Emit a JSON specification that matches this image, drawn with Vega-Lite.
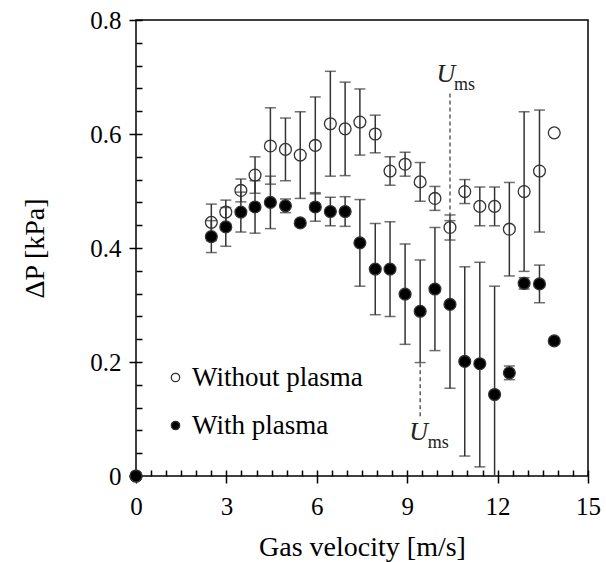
{
  "$schema": "https://vega.github.io/schema/vega-lite/v6.json",
  "width": 452,
  "height": 456,
  "autosize": {"type": "none"},
  "padding": {"left": 136, "top": 20, "right": 18, "bottom": 86},
  "background": "white",
  "config": {
    "view": {"stroke": "black", "strokeWidth": 1.5},
    "font": "Liberation Serif"
  },
  "datasets": {
    "pts": [
      {"v": 0, "p": 0, "s": "Without plasma"},
      {"v": 2.5, "p": 0.445, "lo": 0.413, "hi": 0.477, "s": "Without plasma"},
      {"v": 2.98, "p": 0.463, "lo": 0.442, "hi": 0.484, "s": "Without plasma"},
      {"v": 3.48, "p": 0.501, "lo": 0.481, "hi": 0.521, "s": "Without plasma"},
      {"v": 3.95, "p": 0.528, "lo": 0.496, "hi": 0.56, "s": "Without plasma"},
      {"v": 4.46, "p": 0.579, "lo": 0.512, "hi": 0.646, "s": "Without plasma"},
      {"v": 4.96, "p": 0.573, "lo": 0.518, "hi": 0.628, "s": "Without plasma"},
      {"v": 5.45, "p": 0.563, "lo": 0.487, "hi": 0.639, "s": "Without plasma"},
      {"v": 5.95, "p": 0.58, "lo": 0.495, "hi": 0.665, "s": "Without plasma"},
      {"v": 6.45, "p": 0.618, "lo": 0.526, "hi": 0.71, "s": "Without plasma"},
      {"v": 6.94, "p": 0.609, "lo": 0.527, "hi": 0.691, "s": "Without plasma"},
      {"v": 7.43, "p": 0.621, "lo": 0.563, "hi": 0.679, "s": "Without plasma"},
      {"v": 7.94, "p": 0.6, "lo": 0.567, "hi": 0.633, "s": "Without plasma"},
      {"v": 8.43, "p": 0.535, "lo": 0.51, "hi": 0.56, "s": "Without plasma"},
      {"v": 8.93, "p": 0.547, "lo": 0.526, "hi": 0.568, "s": "Without plasma"},
      {"v": 9.43, "p": 0.516, "lo": 0.482, "hi": 0.55, "s": "Without plasma"},
      {"v": 9.92, "p": 0.487, "lo": 0.466, "hi": 0.508, "s": "Without plasma"},
      {"v": 10.42, "p": 0.436, "lo": 0.414, "hi": 0.458, "s": "Without plasma"},
      {"v": 10.91, "p": 0.499, "lo": 0.478, "hi": 0.52, "s": "Without plasma"},
      {"v": 11.41, "p": 0.473, "lo": 0.439, "hi": 0.507, "s": "Without plasma"},
      {"v": 11.9, "p": 0.473, "lo": 0.439, "hi": 0.507, "s": "Without plasma"},
      {"v": 12.39, "p": 0.433, "lo": 0.351, "hi": 0.515, "s": "Without plasma"},
      {"v": 12.88, "p": 0.499, "lo": 0.359, "hi": 0.639, "s": "Without plasma"},
      {"v": 13.39, "p": 0.535, "lo": 0.428, "hi": 0.642, "s": "Without plasma"},
      {"v": 13.88, "p": 0.602, "s": "Without plasma"},
      {"v": 0, "p": 0, "s": "With plasma"},
      {"v": 2.5, "p": 0.42, "lo": 0.392, "hi": 0.448, "s": "With plasma"},
      {"v": 2.98, "p": 0.437, "lo": 0.403, "hi": 0.471, "s": "With plasma"},
      {"v": 3.48, "p": 0.463, "lo": 0.428, "hi": 0.498, "s": "With plasma"},
      {"v": 3.95, "p": 0.472, "lo": 0.426, "hi": 0.518, "s": "With plasma"},
      {"v": 4.46, "p": 0.48, "lo": 0.434, "hi": 0.526, "s": "With plasma"},
      {"v": 4.96, "p": 0.474, "lo": 0.462, "hi": 0.486, "s": "With plasma"},
      {"v": 5.45, "p": 0.444, "s": "With plasma"},
      {"v": 5.95, "p": 0.472, "lo": 0.447, "hi": 0.497, "s": "With plasma"},
      {"v": 6.45, "p": 0.464, "lo": 0.439, "hi": 0.489, "s": "With plasma"},
      {"v": 6.94, "p": 0.464, "lo": 0.438, "hi": 0.49, "s": "With plasma"},
      {"v": 7.43, "p": 0.409, "lo": 0.333, "hi": 0.485, "s": "With plasma"},
      {"v": 7.94, "p": 0.363, "lo": 0.283, "hi": 0.443, "s": "With plasma"},
      {"v": 8.43, "p": 0.363, "lo": 0.28, "hi": 0.446, "s": "With plasma"},
      {"v": 8.93, "p": 0.319, "lo": 0.231, "hi": 0.407, "s": "With plasma"},
      {"v": 9.43, "p": 0.289, "lo": 0.199, "hi": 0.379, "s": "With plasma"},
      {"v": 9.92, "p": 0.328, "lo": 0.22, "hi": 0.436, "s": "With plasma"},
      {"v": 10.42, "p": 0.301, "lo": 0.154, "hi": 0.448, "s": "With plasma"},
      {"v": 10.91, "p": 0.201, "lo": 0.035, "hi": 0.367, "s": "With plasma"},
      {"v": 11.41, "p": 0.197, "lo": 0.016, "hi": 0.375, "s": "With plasma"},
      {"v": 11.9, "p": 0.143, "lo": -0.047, "hi": 0.333, "s": "With plasma"},
      {"v": 12.39, "p": 0.181, "lo": 0.169, "hi": 0.193, "s": "With plasma"},
      {"v": 12.88, "p": 0.338, "lo": 0.328, "hi": 0.348, "s": "With plasma"},
      {"v": 13.39, "p": 0.337, "lo": 0.304, "hi": 0.37, "s": "With plasma"},
      {"v": 13.88, "p": 0.237, "s": "With plasma"}
    ],
    "dashes": [
      {"v": 10.42, "a": 0.671, "b": 0.458},
      {"v": 9.43, "a": 0.198, "b": 0.104}
    ],
    "notes": [
      {"v": 9.97, "p": 0.691, "t": "U", "k": "main"},
      {"v": 10.55, "p": 0.677, "t": "ms", "k": "sub"},
      {"v": 9.07, "p": 0.063, "t": "U", "k": "main"},
      {"v": 9.68, "p": 0.049, "t": "ms", "k": "sub"}
    ]
  },
  "resolve": {"axis": {"x": "independent", "y": "independent"}},
  "layer": [
    {
      "data": {"name": "pts"},
      "transform": [{"filter": "isValid(datum.lo)"}],
      "mark": {"type": "rule", "color": "#333333", "strokeWidth": 1.5, "clip": true},
      "encoding": {
        "x": {"field": "v", "type": "quantitative", "scale": {"domain": [0, 15], "nice": false, "zero": false},
          "axis": {"orient": "bottom", "values": [0,0.5,1,1.5,2,2.5,3,3.5,4,4.5,5,5.5,6,6.5,7,7.5,8,8.5,9,9.5,10,10.5,11,11.5,12,12.5,13,13.5,14,14.5,15],
            "tickSize": -6, "tickWidth": 1.5, "tickColor": "black", "labels": false, "domain": false, "grid": false, "title": null}},
        "y": {"field": "lo", "type": "quantitative", "scale": {"domain": [0, 0.8], "nice": false, "zero": false},
          "axis": {"orient": "left", "values": [0,0.04,0.08,0.12,0.16,0.2,0.24,0.28,0.32,0.36,0.4,0.44,0.48,0.52,0.56,0.6,0.64,0.68,0.72,0.76,0.8],
            "tickSize": -6, "tickWidth": 1.5, "tickColor": "black", "labels": false, "domain": false, "grid": false, "title": null}},
        "y2": {"field": "hi"}
      }
    },
    {
      "data": {"name": "pts"},
      "transform": [{"filter": "isValid(datum.lo)"}],
      "mark": {"type": "tick", "orient": "horizontal", "color": "#333333", "thickness": 1.5, "size": 11, "clip": true},
      "encoding": {
        "x": {"field": "v", "type": "quantitative", "axis": null},
        "y": {"field": "lo", "type": "quantitative", "axis": null}
      }
    },
    {
      "data": {"name": "pts"},
      "transform": [{"filter": "isValid(datum.lo)"}],
      "mark": {"type": "tick", "orient": "horizontal", "color": "#333333", "thickness": 1.5, "size": 11, "clip": true},
      "encoding": {
        "x": {"field": "v", "type": "quantitative", "axis": null},
        "y": {"field": "hi", "type": "quantitative", "axis": null}
      }
    },
    {
      "data": {"name": "dashes"},
      "mark": {"type": "rule", "color": "#333333", "strokeWidth": 1.2, "strokeDash": [4, 3]},
      "encoding": {
        "x": {"field": "v", "type": "quantitative", "axis": null},
        "y": {"field": "a", "type": "quantitative", "axis": null},
        "y2": {"field": "b"}
      }
    },
    {
      "data": {"name": "pts"},
      "mark": {"type": "point", "shape": "circle", "filled": true, "size": 140, "stroke": "#333333", "strokeWidth": 1.3, "opacity": 1},
      "encoding": {
        "x": {"field": "v", "type": "quantitative", "scale": {"domain": [0, 15], "nice": false, "zero": false},
          "axis": {"orient": "bottom", "values": [0, 3, 6, 9, 12, 15], "format": "d", "tickSize": 7, "tickWidth": 1.5, "tickColor": "black",
            "labelFont": "Liberation Serif", "labelFontSize": 25, "labelColor": "black", "labelPadding": 11, "labelFlush": false,
            "domain": false, "grid": false, "title": "Gas velocity [m/s]", "titleFont": "Liberation Serif", "titleFontSize": 28,
            "titleFontWeight": "normal", "titleColor": "black", "titlePadding": 14}},
        "y": {"field": "p", "type": "quantitative", "scale": {"domain": [0, 0.8], "nice": false, "zero": false},
          "axis": {"orient": "left", "values": [0, 0.2, 0.4, 0.6, 0.8], "format": "~g", "tickSize": 7, "tickWidth": 1.5, "tickColor": "black",
            "labelFont": "Liberation Serif", "labelFontSize": 25, "labelColor": "black", "labelPadding": 8, "labelFlush": false,
            "domain": false, "grid": false, "title": "ΔP [kPa]", "titleFont": "Liberation Serif", "titleFontSize": 28,
            "titleFontWeight": "normal", "titleColor": "black", "titlePadding": 40}},
        "fill": {"field": "s", "type": "nominal", "sort": null,
          "scale": {"domain": ["Without plasma", "With plasma"], "range": ["transparent", "black"]},
          "legend": {"orient": "none", "legendX": 26, "legendY": 344, "title": null, "padding": 0,
            "symbolType": "circle", "symbolSize": 70, "symbolStrokeColor": "#333333", "symbolStrokeWidth": 1.3,
            "labelFont": "Liberation Serif", "labelFontSize": 27, "labelColor": "black", "labelOffset": 3, "labelLimit": 400, "rowPadding": 20}}
      }
    },
    {
      "data": {"name": "notes"},
      "transform": [{"filter": "datum.k == 'main'"}],
      "mark": {"type": "text", "font": "Liberation Serif", "fontStyle": "italic", "fontSize": 26, "align": "left", "baseline": "alphabetic", "color": "#222222"},
      "encoding": {
        "x": {"field": "v", "type": "quantitative", "axis": null},
        "y": {"field": "p", "type": "quantitative", "axis": null},
        "text": {"field": "t"}
      }
    },
    {
      "data": {"name": "notes"},
      "transform": [{"filter": "datum.k == 'sub'"}],
      "mark": {"type": "text", "font": "Liberation Serif", "fontSize": 18, "align": "left", "baseline": "alphabetic", "color": "#222222"},
      "encoding": {
        "x": {"field": "v", "type": "quantitative", "axis": null},
        "y": {"field": "p", "type": "quantitative", "axis": null},
        "text": {"field": "t"}
      }
    }
  ]
}
